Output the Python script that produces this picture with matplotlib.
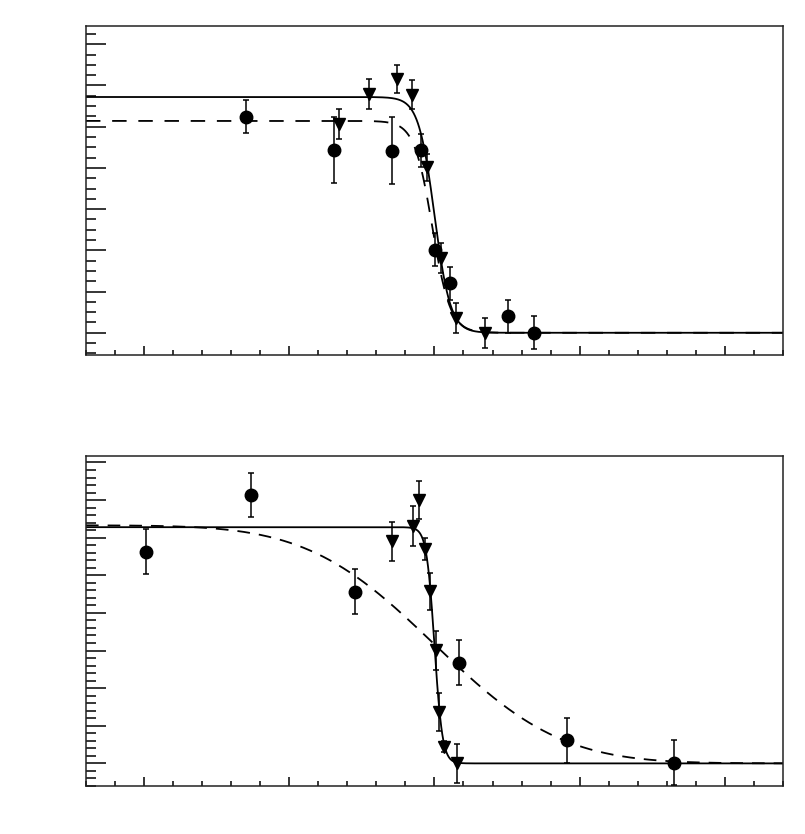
# -*- coding: utf-8 -*
'''
two stacked panels: step-like fall of the signal, points with error bars and fit curves
'''
import math
import numpy as np
import matplotlib
matplotlib.use('Agg')
import matplotlib.pyplot as plt

# top panel - circles
top_circ_x = [0.704, 1.308, 1.708, 1.905, 2.005, 2.104, 2.508, 2.687]
top_circ_y = [5.24, 4.43, 4.42, 4.43, 2.02, 1.20, 0.40, 0.00]
top_circ_err = [0.40, 0.80, 0.81, 0.40, 0.40, 0.40, 0.40, 0.40]

# top panel - triangles
top_tri_x = [1.344, 1.546, 1.742, 1.845, 1.948, 2.047, 2.150, 2.350]
top_tri_y = [5.07, 5.79, 6.15, 5.78, 4.01, 1.81, 0.36, 0.00]
top_tri_err = [0.36, 0.36, 0.34, 0.36, 0.33, 0.36, 0.36, 0.36]

# bottom panel - circles
bot_circ_x = [0.016, 0.734, 1.452, 2.172, 2.911, 3.652]
bot_circ_y = [5.63, 7.14, 4.56, 2.68, 0.62, 0.02]
bot_circ_err = [0.60, 0.59, 0.60, 0.60, 0.60, 0.60]

# bottom panel - triangles
bot_tri_x = [1.711, 1.852, 1.893, 1.932, 1.971, 2.008, 2.030, 2.069, 2.154]
bot_tri_y = [5.91, 6.31, 7.00, 5.70, 4.57, 3.01, 1.37, 0.44, 0.00]
bot_tri_err = [0.52, 0.53, 0.51, 0.28, 0.50, 0.52, 0.51, 0.15, 0.52]

# fit parameters (plateau, centre, width)
top_solid_fit = (5.72, 2.000, 0.055)
top_dash_fit = (5.14, 1.985, 0.062)
bot_solid_fit = (6.28, 2.000, 0.0275)
bot_dash_fit = (6.33, 2.000, 0.686)

xlim = (-0.4, 4.4)
top_ylim = (-0.54, 7.45)
bot_ylim = (-0.60, 8.18)


def fermi(x, a, x0, w):
    return a / (1.0 + np.exp((x - x0) / w))


def erfc_step(x, a, x0, s):
    erfc = np.vectorize(math.erfc)
    return a * 0.5 * erfc((x - x0) / (math.sqrt(2.0) * s))


def style_axes(ax, ylim, y_minor):
    ax.set_xlim(*xlim)
    ax.set_ylim(*ylim)
    ax.set_xticks(np.arange(0, 4.01, 1.0))
    ax.set_xticks(np.arange(-0.4, 4.41, 0.2), minor=True)
    ax.set_yticks(np.arange(0, ylim[1], 1.0))
    # minor ticks aligned with the major ones
    start = -y_minor * math.floor(-ylim[0] / y_minor + 1e-9)
    ax.set_yticks(np.arange(start, ylim[1], y_minor), minor=True)
    ax.tick_params(axis='both', which='both', direction='in', top=False, right=False,
                   labelleft=False, labelbottom=False, width=1.1, color='black')
    ax.tick_params(axis='y', which='major', length=14.4)
    ax.tick_params(axis='y', which='minor', length=7.2)
    ax.tick_params(axis='x', which='major', length=6.8)
    ax.tick_params(axis='x', which='minor', length=3.3)
    for sp in ax.spines.values():
        sp.set_linewidth(1.1)
        sp.set_color('#222222')


def draw_points(ax, x, y, err, marker):
    ax.errorbar(x, y, yerr=err, fmt=marker, color='black', ms=9.0, lw=1.1,
                capsize=1.9, capthick=1.1, zorder=3)


fig = plt.figure(figsize=(8.05, 8.34), dpi=100)
ax1 = fig.add_axes([0.1068, 0.5743, 0.8658, 0.3949])
ax2 = fig.add_axes([0.1068, 0.0576, 0.8658, 0.3960])

xx = np.linspace(xlim[0], xlim[1], 2000)

# top panel
ax1.plot(xx, fermi(xx, *top_solid_fit), color='black', lw=1.3)
ax1.plot(xx, fermi(xx, *top_dash_fit), color='black', lw=1.3, dashes=(8, 6.5))
draw_points(ax1, top_circ_x, top_circ_y, top_circ_err, 'o')
draw_points(ax1, top_tri_x, top_tri_y, top_tri_err, 'v')
style_axes(ax1, top_ylim, 0.25)

# bottom panel
ax2.plot(xx, fermi(xx, *bot_solid_fit), color='black', lw=1.3)
ax2.plot(xx, erfc_step(xx, *bot_dash_fit), color='black', lw=1.3, dashes=(7, 5))
draw_points(ax2, bot_circ_x, bot_circ_y, bot_circ_err, 'o')
draw_points(ax2, bot_tri_x, bot_tri_y, bot_tri_err, 'v')
style_axes(ax2, bot_ylim, 0.2)

fig.savefig('out.png', dpi=100)
